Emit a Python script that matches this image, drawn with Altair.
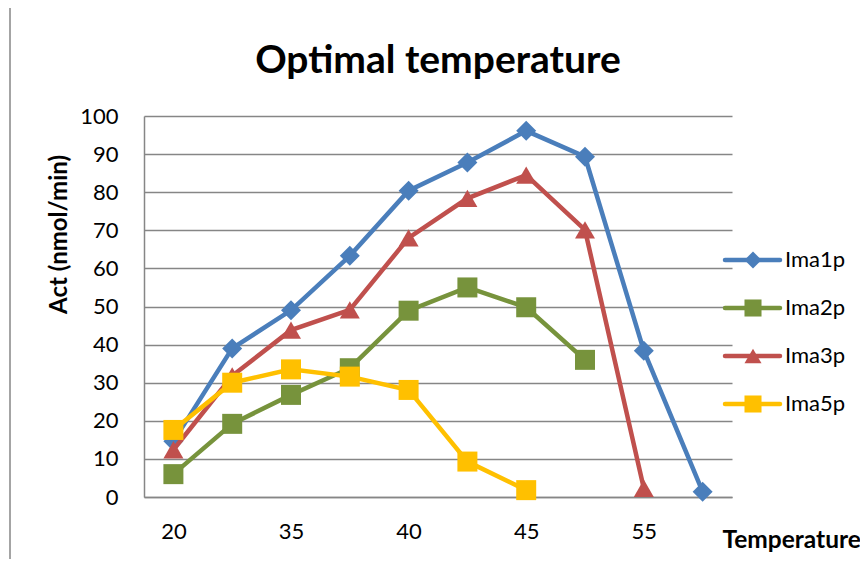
import altair as alt
import pandas as pd

categories = ["20", "30", "35", "37", "40", "42", "45", "50", "55", "60"]
shown_labels = ["20", "35", "40", "45", "55"]
series_names = ["Ima1p", "Ima2p", "Ima3p", "Ima5p"]
ima1p = [14.6, 39.0, 49.0, 63.3, 80.4, 87.8, 96.1, 89.3, 38.4, 1.4]
ima2p = [6.0, 19.2, 26.8, 33.8, 48.9, 55.0, 49.8, 36.0, None, None]
ima3p = [12.4, 31.8, 43.8, 49.1, 68.0, 78.4, 84.5, 70.1, 2.3, None]
ima5p = [17.6, 30.0, 33.5, 31.6, 28.1, 9.3, 1.8, None, None, None]
colors = ["#4A7EBB", "#77933C", "#C0504D", "#FFC000"]
shapes = ["diamond", "square", "triangle-up", "square"]

rows = []
for name, vals in zip(series_names, [ima1p, ima2p, ima3p, ima5p]):
    for c, v in zip(categories, vals):
        if v is not None:
            rows.append({"temp": c, "act": v, "series": name})
df = pd.DataFrame(rows)

FONT = "Lato"
GRID = "#868686"

x_enc = alt.X(
    "temp:O",
    sort=categories,
    scale=alt.Scale(domain=categories, padding=0.5),
    axis=alt.Axis(
        values=shown_labels, labelAngle=0, title="Temperature",
        titleX=578, titleY=50, titleAlign="left", titleBaseline="alphabetic",
        titleFontSize=24.5, titleFontWeight="bold", titleFont=FONT, titleColor="black",
        labelFont=FONT, labelFontSize=22, labelColor="black", labelPadding=24,
        ticks=False, grid=False, domainColor=GRID, domainWidth=1.5,
    ),
)
y_enc = alt.Y(
    "act:Q",
    scale=alt.Scale(domain=[0, 100], nice=False),
    axis=alt.Axis(
        values=list(range(0, 101, 10)), title="Act (nmol/min)",
        titleAngle=-90, titleX=-85, titleY=118, titleAlign="center", titleBaseline="middle",
        titleFontSize=24, titleFontWeight="bold", titleFont=FONT, titleColor="black",
        labelFont=FONT, labelFontSize=22, labelColor="black", labelPadding=26,
        ticks=False, grid=True, gridColor=GRID, gridWidth=1.5,
        domainColor=GRID, domainWidth=1.5,
    ),
)

layers = []
for name, col, shp in zip(series_names, colors, shapes):
    base = alt.Chart(df).transform_filter(alt.datum.series == name)
    layers.append(base.mark_line(strokeWidth=4.5, color=col).encode(x=x_enc, y=y_enc))
    layers.append(
        base.mark_point(filled=True, size=400, shape=shp, color=col, opacity=1).encode(x=x_enc, y=y_enc)
    )
main = alt.layer(*layers)

legend_df = pd.DataFrame({"series": series_names})
ly = alt.Y("series:N", scale=alt.Scale(domain=series_names, range=[144, 288], type="point", padding=0), axis=None)
lcol = alt.Color("series:N", scale=alt.Scale(domain=series_names, range=colors), legend=None)
lshape = alt.Shape("series:N", scale=alt.Scale(domain=series_names, range=shapes), legend=None)
lbase = alt.Chart(legend_df)
leg_rule = lbase.mark_rule(strokeWidth=4.5, strokeCap="round").encode(
    x=alt.value(581), x2=alt.value(636), y=ly, color=lcol
)
leg_pt = lbase.mark_point(filled=True, size=290, opacity=1).encode(
    x=alt.value(609), y=ly, color=lcol, shape=lshape
)
leg_txt = lbase.mark_text(align="left", baseline="middle", fontSize=22, font=FONT, color="black").encode(
    x=alt.value(641), y=ly, text="series:N"
)
border = alt.Chart(pd.DataFrame({"a": [0]})).mark_rule(color=GRID, strokeWidth=1.5).encode(
    x=alt.value(-134), y=alt.value(-116), y2=alt.value(460)
)
title_txt = alt.Chart(pd.DataFrame({"t": ["Optimal temperature"]})).mark_text(
    align="center", baseline="alphabetic", fontSize=39, font=FONT, fontWeight="bold", color="black"
).encode(x=alt.value(294), y=alt.value(-43), text="t:N")
legend = alt.layer(leg_rule, leg_pt, leg_txt, border, title_txt)

chart = alt.layer(main, legend).resolve_scale(y="independent").properties(
    width=588,
    height=381,
    autosize=alt.AutoSizeParams(type="none"),
    padding={"left": 136, "top": 108, "right": 128, "bottom": 62},
).configure_view(stroke=None)

chart.save("out.html", embed_options={"renderer": "svg", "actions": False})
